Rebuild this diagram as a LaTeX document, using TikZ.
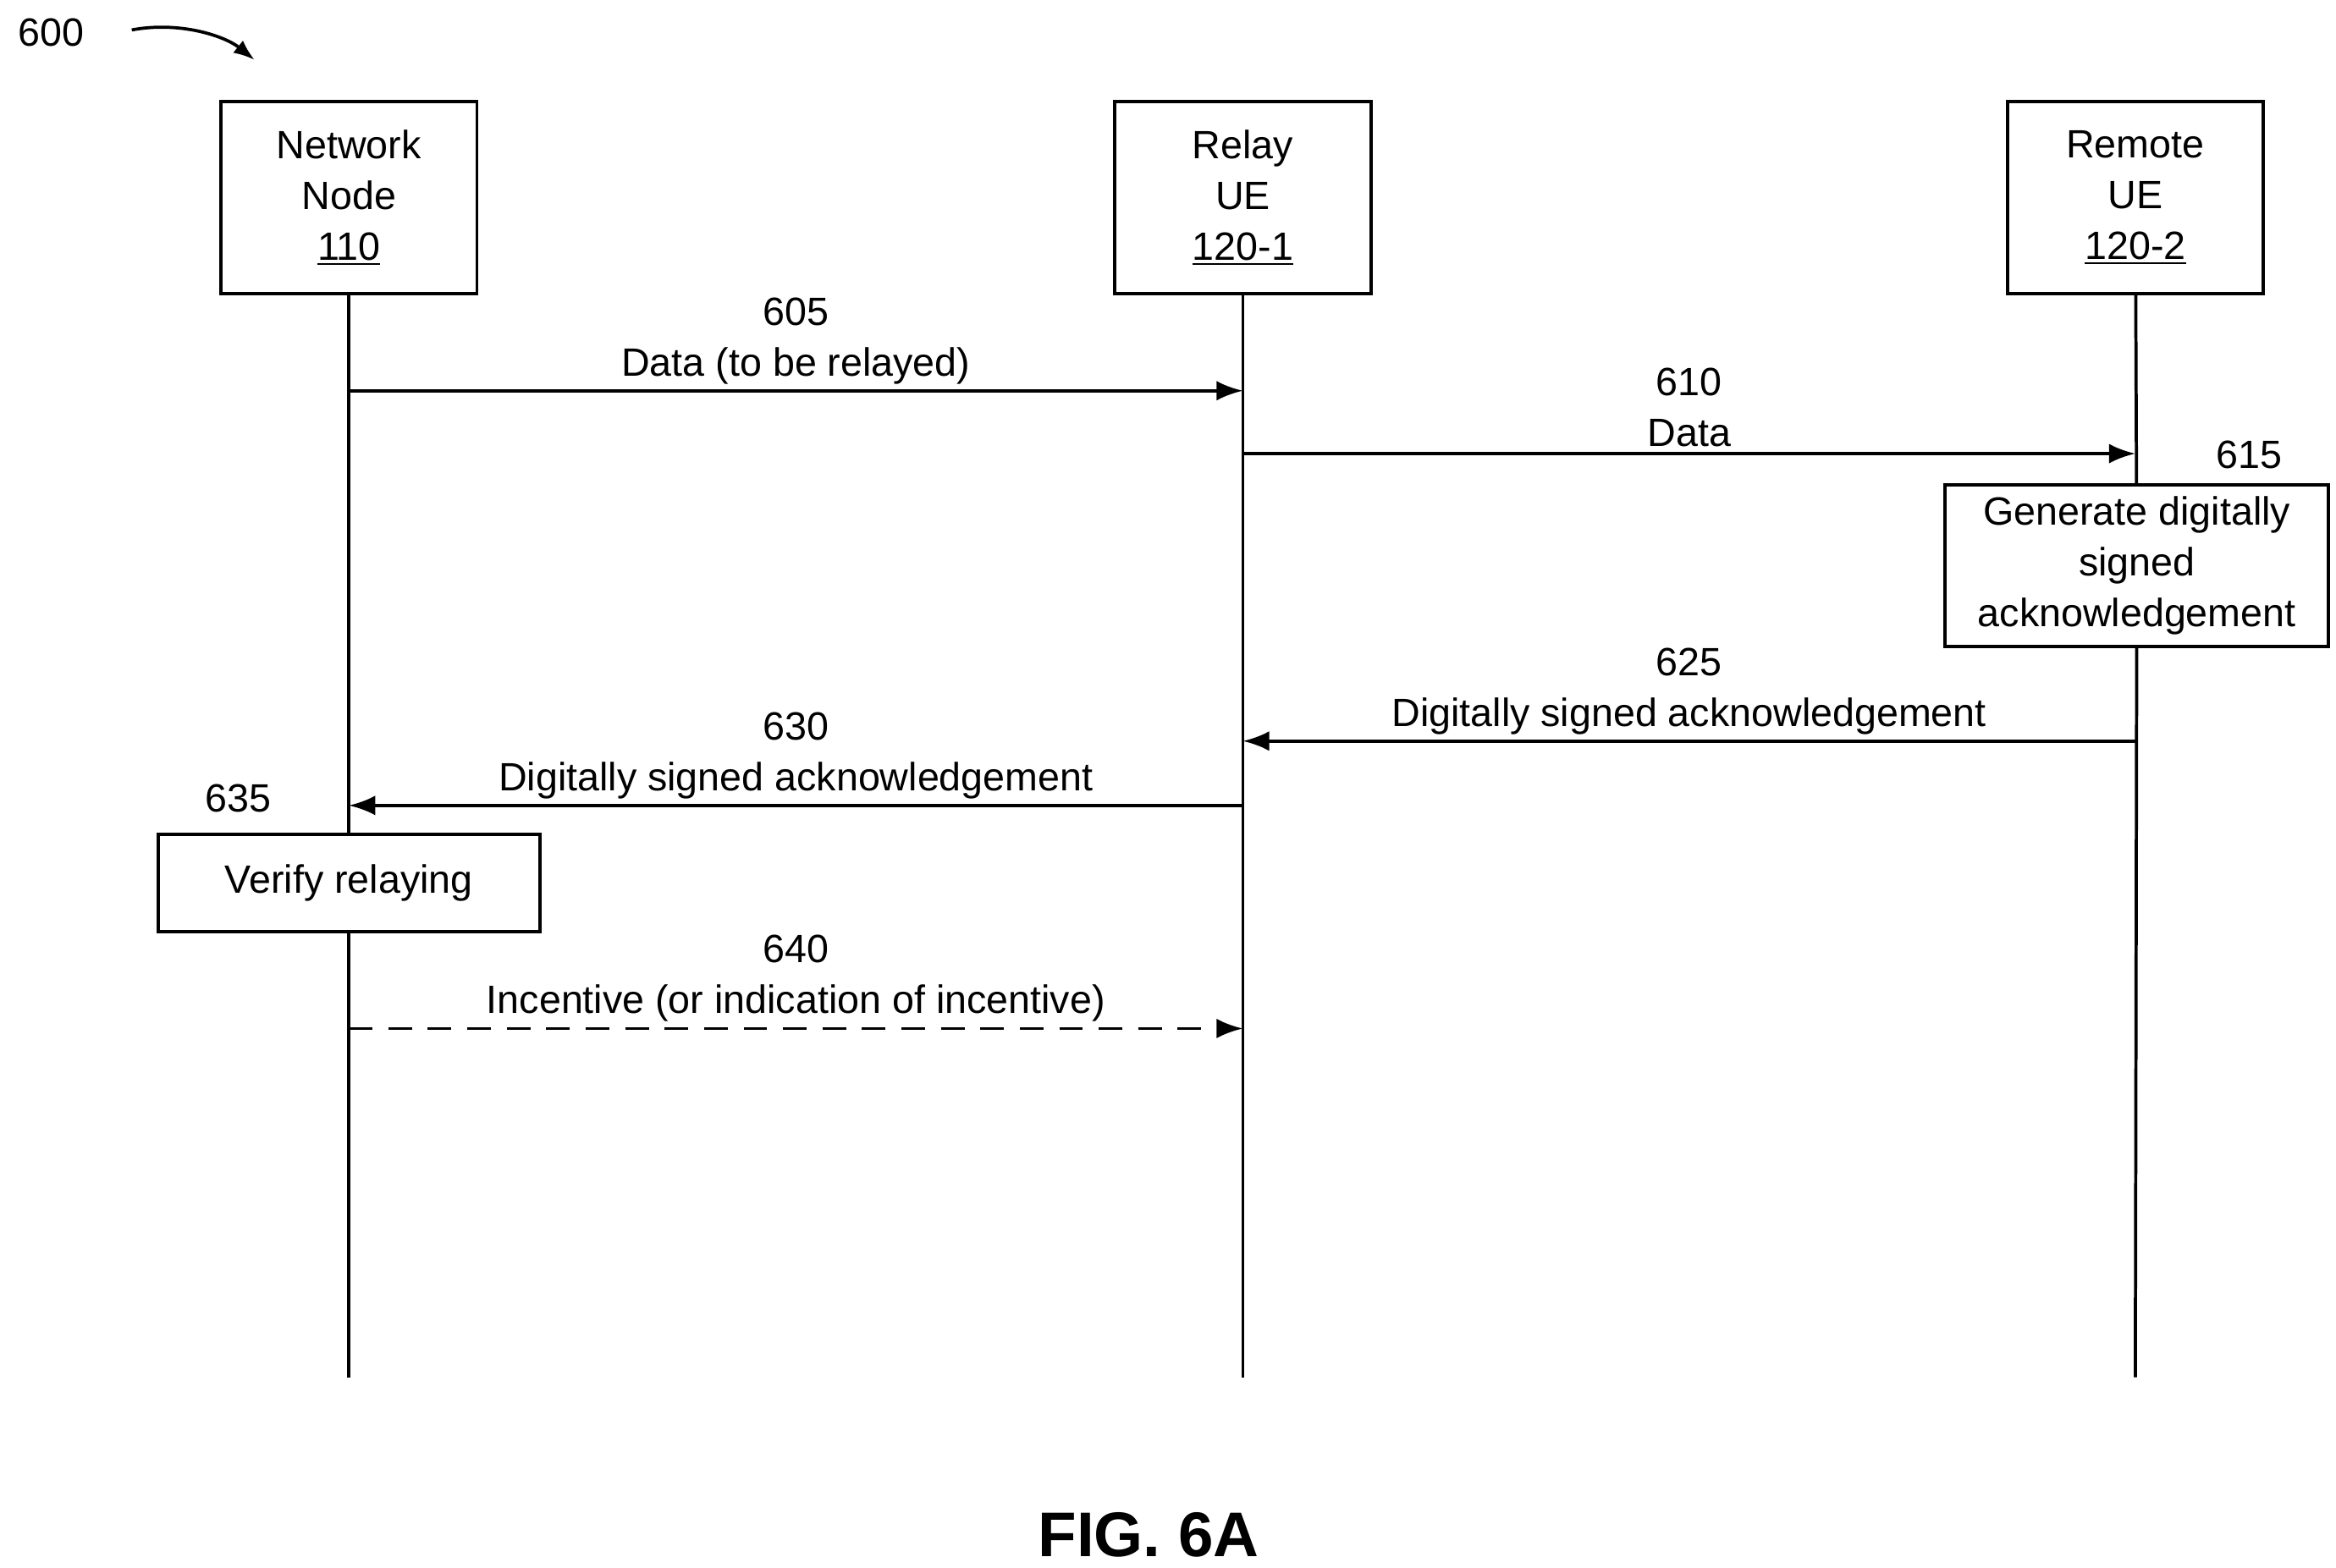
\documentclass[tikz,border=0pt]{standalone}
\usepackage{fontspec}
\setmainfont{Liberation Sans}
\usetikzlibrary{arrows.meta}
\begin{document}
\begin{tikzpicture}[x=0.02cm,y=-0.02cm,
    font=\fontsize{15}{19.3}\selectfont, line width=1.2pt,
    entity/.style={draw,minimum width=3.42cm,minimum height=2.56cm,align=center,inner sep=0pt},
    action/.style={draw,align=center,inner sep=2pt},
    msg/.style={-{Latex[length=10pt,width=7.5pt]}},
    lbl/.style={align=center,inner sep=2pt}]
            \useasboundingbox (0,0) rectangle (1560,1047);

            \node[entity] (NN) at (233, 132) {Network\\Node\\\underline{110}};
            \node[entity] (RLY) at (830, 132) {Relay\\UE\\\underline{120-1}};
            \node[entity] (RMT) at (1426, 132) {Remote\\UE\\\underline{120-2}};

            \coordinate (NNend) at (233, 920);
            \coordinate (RLYend) at (830, 920);
            \coordinate (RMTend) at (1426, 920);

            \node[action,minimum width=5.12cm,minimum height=2.16cm] (GEN) at (1427, 378) {Generate digitally\\signed\\acknowledgement};
            \node[action,minimum width=5.1cm,minimum height=1.3cm] (VER) at (233, 590) {Verify relaying};

            \draw (NN) -- (VER) -- (NNend);
            \draw (RLY) -- (RLYend);
            \draw (RMT) -- (GEN) -- (RMTend);

            \coordinate (A1) at (233, 261);  \coordinate (B1) at (830, 261);
            \coordinate (A2) at (830, 303);  \coordinate (B2) at (1426, 303);
            \coordinate (A3) at (1426, 495); \coordinate (B3) at (830, 495);
            \coordinate (A4) at (830, 538);  \coordinate (B4) at (233, 538);
            \coordinate (A5) at (233, 687);  \coordinate (B5) at (830, 687);

            \draw[msg] (A1) -- node[lbl,above] {605\\Data (to be relayed)} (B1);
            \draw[msg] (A2) -- node[lbl,above] {610\\Data} (B2);
            \draw[msg] (A3) -- node[lbl,above] {625\\Digitally signed acknowledgement} (B3);
            \draw[msg] (A4) -- node[lbl,above] {630\\Digitally signed acknowledgement} (B4);
            \draw[msg,dash pattern=on 9pt off 6pt] (A5) -- node[lbl,above] {640\\Incentive (or indication of incentive)} (B5);

            \node (L615) at (1502, 304) {615};
            \node (L635) at (159, 533) {635};

            \node (L600) at (34, 22) {600};
            \coordinate (C600) at (170, 40);
            \draw[-{Latex[length=8pt,width=6pt]}] (88, 20) .. controls (120, 14) and (150, 24) .. (C600);

            \node[font=\fontsize{24}{27}\selectfont\bfseries,inner sep=0pt] (FIG) at (767, 1025) {FIG. 6A};
        \end{tikzpicture}
\end{document}
